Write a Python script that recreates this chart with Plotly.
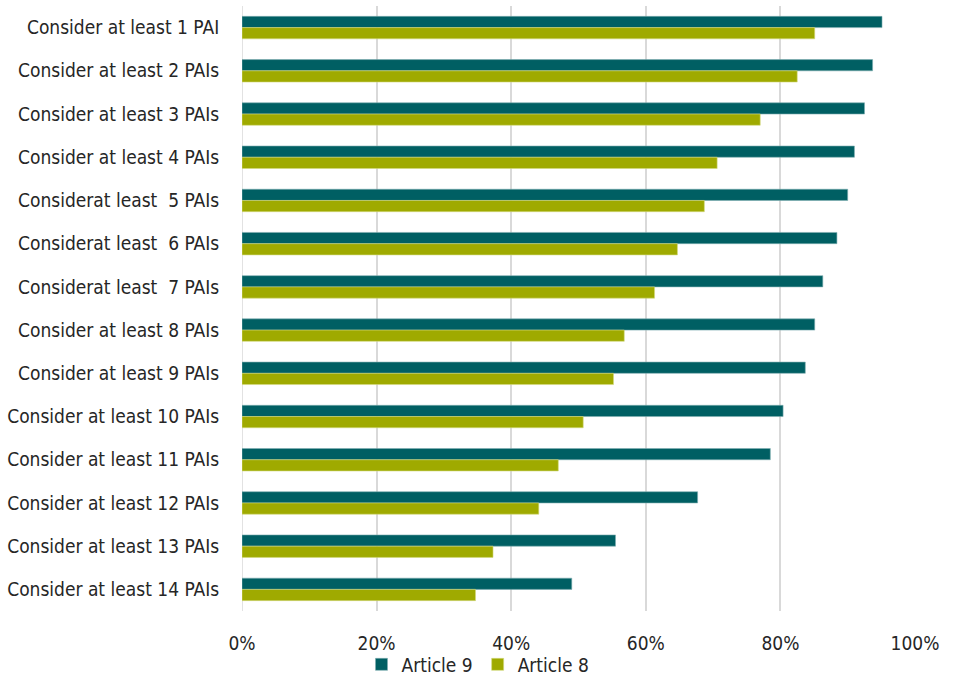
import plotly.graph_objects as go

categories = [
    "Consider at least 1 PAI",
    "Consider at least 2 PAIs",
    "Consider at least 3 PAIs",
    "Consider at least 4 PAIs",
    "Considerat least\u00a0 5 PAIs",
    "Considerat least\u00a0 6 PAIs",
    "Considerat least\u00a0 7 PAIs",
    "Consider at least 8 PAIs",
    "Consider at least 9 PAIs",
    "Consider at least 10 PAIs",
    "Consider at least 11 PAIs",
    "Consider at least 12 PAIs",
    "Consider at least 13 PAIs",
    "Consider at least 14 PAIs",
]
article9 = [0.951, 0.937, 0.925, 0.910, 0.900, 0.884, 0.863, 0.851, 0.837, 0.804, 0.785, 0.677, 0.555, 0.490]
article8 = [0.851, 0.825, 0.770, 0.706, 0.687, 0.647, 0.613, 0.568, 0.552, 0.507, 0.470, 0.441, 0.373, 0.347]
tick_vals = [0, 0.2, 0.4, 0.6, 0.8, 1.0]
tick_text = ["0%", "20%", "40%", "60%", "80%", "100%"]

FONT = "DejaVu Sans Condensed, Liberation Sans Narrow, Arial Narrow, sans-serif"

fig = go.Figure()
fig.add_trace(go.Bar(
    name="Article 9", y=categories, x=article9, orientation="h",
    marker=dict(color="#005F63", line=dict(color="#7FAFB1", width=0.6)),
))
fig.add_trace(go.Bar(
    name="Article 8", y=categories, x=article8, orientation="h",
    marker=dict(color="#9FAA00", line=dict(color="#D4DA80", width=0.6)),
))

fig.update_layout(
    width=956, height=676,
    margin=dict(l=242, r=41, t=6, b=65, autoexpand=False),
    paper_bgcolor="white", plot_bgcolor="white",
    barmode="group", bargap=0.48, bargroupgap=0,
    font=dict(family=FONT, size=19, color="#262626"),
    showlegend=True,
    legend=dict(
        orientation="h", xref="container", yref="container",
        x=0.5, xanchor="center", y=0.017, yanchor="middle",
        bgcolor="rgba(0,0,0,0)",
        font=dict(family=FONT, size=19, color="#262626"),
        itemwidth=30, traceorder="normal", tracegroupgap=0,
    ),
    xaxis=dict(
        range=[0, 1.0], tickvals=tick_vals, ticktext=tick_text,
        showgrid=True, gridcolor="#D9D9D9", gridwidth=1.5,
        zeroline=False, showline=False, automargin=False,
        ticks="outside", ticklen=15, tickcolor="rgba(0,0,0,0)",
        fixedrange=True,
    ),
    yaxis=dict(
        autorange="reversed", showgrid=False, zeroline=False, showline=False,
        automargin=False,
        ticks="outside", ticklen=18, tickcolor="rgba(0,0,0,0)",
    ),
)
fig.add_shape(type="line", xref="x", yref="paper", x0=0, x1=0, y0=0, y1=1,
              line=dict(color="#D9D9D9", width=1.5), layer="below")

fig.write_html("out.html")
